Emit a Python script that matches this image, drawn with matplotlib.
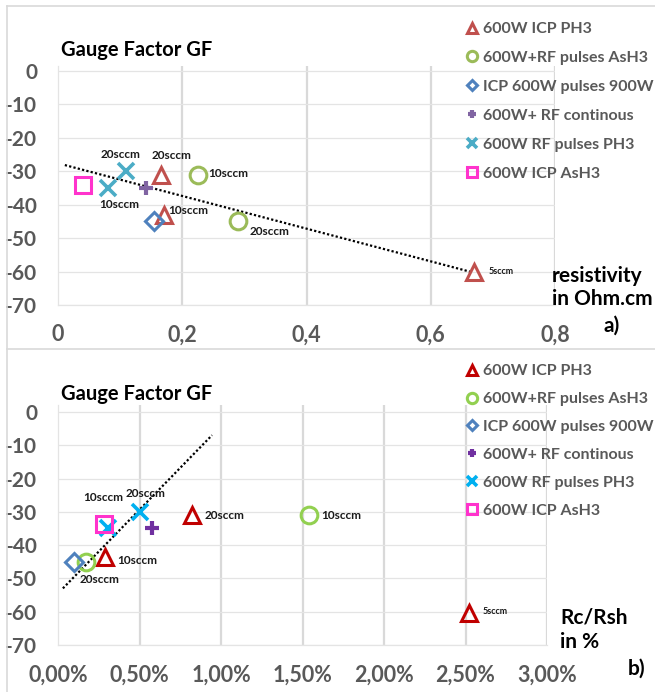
import numpy as np
import matplotlib
matplotlib.use("Agg")
import matplotlib.pyplot as plt
from matplotlib.lines import Line2D
from matplotlib.ticker import FuncFormatter

plt.rcParams['font.family'] = ['Lato', 'DejaVu Sans']

# ── DATA ─────────────────────────────────────────────────────────────────────
SERIES = ['600W ICP PH3', '600W+RF pulses AsH3', 'ICP 600W pulses 900W',
          '600W+ RF continous', '600W RF pulses PH3', '600W ICP AsH3']

# panel a) resistivity (Ohm.cm) vs gauge factor
A_X = [[0.165, 0.170, 0.670], [0.226, 0.290], [0.155], [0.142], [0.110, 0.080], [0.040]]
A_Y = [[-31, -43, -60], [-31, -45], [-45], [-35], [-30, -35], [-34]]
A_LAB = [['20sccm', '10sccm', '5sccm'], ['10sccm', '20sccm'], [None], [None],
         ['20sccm', '10sccm'], [None]]
A_TREND = (-48.9, -27.6, 0.011, 0.665)      # slope, intercept, x from, x to

# panel b) Rc/Rsh (%) vs gauge factor
B_X = [[0.287, 0.825, 2.52], [1.54, 0.17], [0.10], [0.575], [0.50, 0.305], [0.28]]
B_Y = [[-43.5, -31, -60.5], [-31, -45], [-45], [-35], [-30, -35], [-33.5]]
B_LAB = [['10sccm', '20sccm', '5sccm'], ['10sccm', '20sccm'], [None], [None],
         ['20sccm', '10sccm'], [None]]
B_TREND = (50.3, -54.5, 0.03, 0.945)

# ── STYLE ────────────────────────────────────────────────────────────────────
MARKERS = ['^', 'o', 'D', 'P', 'X', 's']
COLORS_A = ['#C0504D', '#9BBB59', '#4F81BD', '#8064A2', '#4BACC6', '#FF33CC']
COLORS_B = ['#C00000', '#92D050', '#4F81BD', '#7030A0', '#00B0F0', '#FF33CC']
MSIZE = [12, 12, 9, 10, 12, 12]
TICK_C = '#595959'
GRID_C = '#D9D9D9'

# label offsets in points (dx, dy, ha)
A_OFF = [[(8, 14, 'center'), (3, 3, 'left'), (10, 0, 'left')],
         [(7, 1, 'left'), (8, -7, 'left')],
         [None], [None],
         [(-4, 12, 'center'), (8, -12, 'center')],
         [None]]
B_OFF = [[(9, -3, 'left'), (9, 0, 'left'), (10, 1, 'left')],
         [(9, 0, 'left'), (10, -13, 'center')],
         [None], [None],
         [(4, 13, 'center'), (-3, 22, 'center')],
         [None]]

W, H = 655, 692
fig = plt.figure(figsize=(W / 100, H / 100), dpi=100)


def fx(px):
    return px / W


def fy(py):
    return 1 - py / H


def style_axes(ax, xlim, ylim, xticks, xfmt):
    ax.set_xlim(*xlim)
    ax.set_ylim(*ylim)
    ax.set_xticks(xticks)
    ax.set_yticks(np.arange(-70, 1, 10))
    ax.xaxis.set_major_formatter(FuncFormatter(xfmt))
    ax.yaxis.set_major_formatter(FuncFormatter(lambda v, p: f"{int(round(v))}"))
    for s in ['top', 'right']:
        ax.spines[s].set_visible(False)
    for s in ['left', 'bottom']:
        ax.spines[s].set_color('#E4E4E4')
        ax.spines[s].set_linewidth(0.9)
    ax.tick_params(axis='x', length=0, pad=14, labelsize=15.5, labelcolor=TICK_C)
    ax.tick_params(axis='y', length=0, pad=15, labelsize=15, labelcolor=TICK_C)
    for lab in ax.get_xticklabels() + ax.get_yticklabels():
        lab.set_fontweight('bold')
    ax.grid(axis='y', color='#E4E4E4', linewidth=0.9, zorder=0)
    ax.grid(axis='x', color=GRID_C, linewidth=1.6, zorder=0)
    ax.get_xgridlines()[0].set_visible(False)
    ax.set_axisbelow(True)
    ax.patch.set_alpha(0)


def draw_panel(ax, xs, ys, labs, offs, colors, trend):
    handles = []
    for i in range(len(SERIES)):
        m = MARKERS[i]
        if m in ('P', 'X'):
            mk = '+' if m == 'P' else 'x'
            h, = ax.plot(xs[i], ys[i], linestyle='none', marker=mk, ms=MSIZE[i],
                         mew=3 if mk == '+' else 2.6, color=colors[i], zorder=3,
                         label=SERIES[i])
        else:
            h, = ax.plot(xs[i], ys[i], linestyle='none', marker=m, ms=MSIZE[i],
                         mfc='none', mec=colors[i], mew=2.2, zorder=3,
                         label=SERIES[i])
        handles.append(h)
        for x, y, t, o in zip(xs[i], ys[i], labs[i], offs[i]):
            if t is None:
                continue
            size = 6.5 if t == '5sccm' else 8.5
            ax.annotate(t, (x, y), xytext=(o[0], o[1]), textcoords='offset points',
                        ha=o[2], va='center', fontsize=size, fontweight='bold',
                        color='#1a1a1a', zorder=4)
    k, b, x0, x1 = trend
    tx = np.array([x0, x1])
    ax.plot(tx, k * tx + b, color='black', linestyle=(0, (1, 1)), linewidth=1.6,
            zorder=2)
    return handles


# ── PANEL a) ─────────────────────────────────────────────────────────────────
ax_a = fig.add_axes([fx(58), fy(305), fx(497), 239 / H])
style_axes(ax_a, (0, 0.8), (-70, 1.5), np.arange(0, 0.81, 0.2),
           lambda v, p: '0' if abs(v) < 1e-9 else f"{v:.1f}".replace('.', ','))
h_a = draw_panel(ax_a, A_X, A_Y, A_LAB, A_OFF, COLORS_A, A_TREND)

# ── PANEL b) ─────────────────────────────────────────────────────────────────
ax_b = fig.add_axes([fx(58), fy(645), fx(489), 240 / H])
style_axes(ax_b, (0, 3), (-70, 2.1), np.arange(0, 3.01, 0.5),
           lambda v, p: f"{v:.2f}%".replace('.', ','))
h_b = draw_panel(ax_b, B_X, B_Y, B_LAB, B_OFF, COLORS_B, B_TREND)

# ── LEGENDS ──────────────────────────────────────────────────────────────────
for handles, top, sp in [(h_a, 22, 0.92), (h_b, 364, 0.86)]:
    fig.legend(handles=handles, loc='upper left', bbox_to_anchor=(fx(466), fy(top)),
               frameon=False, fontsize=11.5, labelcolor=TICK_C, markerscale=0.62,
               handlelength=0.7, handletextpad=0.35, labelspacing=sp,
               borderpad=0, borderaxespad=0, numpoints=1,
               prop={'weight': 'bold', 'size': 11.5})

# ── TEXTS ────────────────────────────────────────────────────────────────────
fig.text(fx(61), fy(56), 'Gauge Factor GF', fontsize=14.5, fontweight='bold',
         color='black', va='baseline')
fig.text(fx(61), fy(400), 'Gauge Factor GF', fontsize=14.5, fontweight='bold',
         color='black', va='baseline')
fig.text(fx(552), fy(282), 'resistivity', fontsize=15, fontweight='bold', va='baseline')
fig.text(fx(552), fy(305), 'in Ohm.cm', fontsize=15, fontweight='bold', va='baseline')
fig.text(fx(612), fy(332), 'a)', fontsize=15, fontweight='bold', va='baseline',
         ha='center')
fig.text(fx(560), fy(623), 'Rc/Rsh', fontsize=15, fontweight='bold', va='baseline')
fig.text(fx(560), fy(648), 'in %', fontsize=15, fontweight='bold', va='baseline')
fig.text(fx(637), fy(675), 'b)', fontsize=15, fontweight='bold', va='baseline',
         ha='center')

# panel frame lines
for coords in [([fx(7), fx(7)], [fy(6), 0]), ([fx(7), 1], [fy(6), fy(6)]),
               ([fx(7), 1], [fy(349), fy(349)])]:
    fig.add_artist(Line2D(coords[0], coords[1], color=GRID_C, linewidth=1.2))

fig.savefig('out.png', dpi=100, facecolor='white')
